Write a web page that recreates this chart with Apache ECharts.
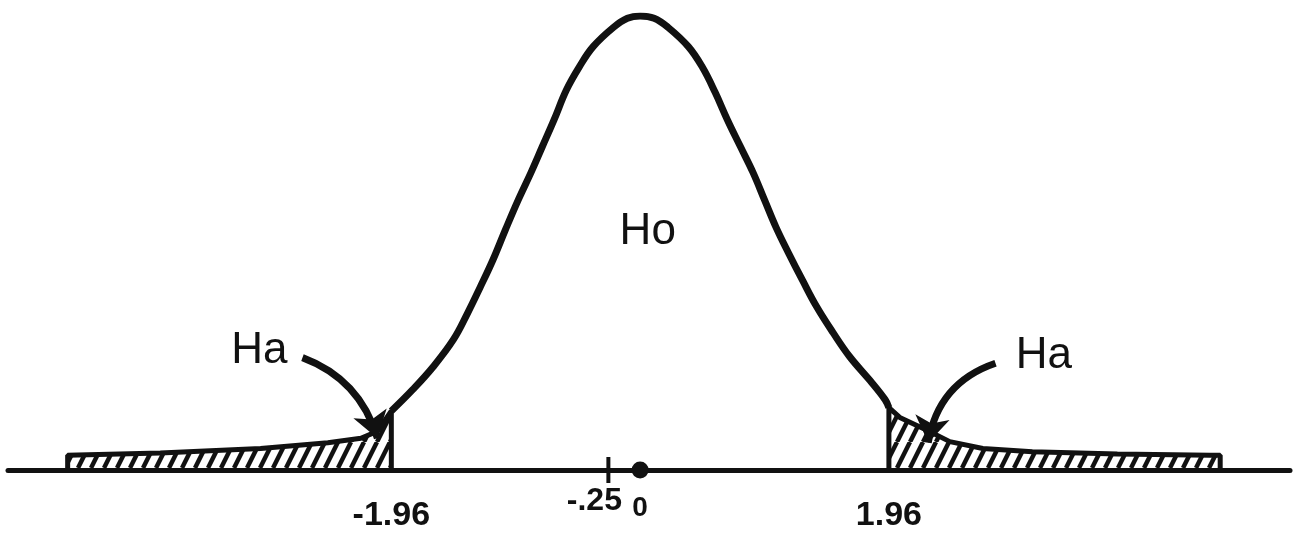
<!DOCTYPE html>
<html>
	<head>
		<meta charset="utf-8">
		<title>Ho / Ha</title>
		<script src="https://cdn.jsdelivr.net/npm/echarts@6.0.0/dist/echarts.min.js"></script>
		<style>
			html, body { margin: 0; padding: 0; background: #fff; }
			#x { width: 1297px; height: 535px; }
		</style>
	</head>
	<body>
		<div id="x"></div>
	</body>

	<script type="text/javascript">
		// curve (z units, density-like heights)
		var curveX = [-1.96, -1.79, -1.63, -1.47, -1.36, -1.26, -1.16, -1.06, -0.96, -0.86, -0.77, -0.68, -0.58, -0.48, -0.37, -0.21, -0.10, 0,
			0.11, 0.22, 0.38, 0.49, 0.59, 0.69, 0.79, 0.89, 0.98, 1.07, 1.17, 1.28, 1.39, 1.52, 1.65, 1.81, 1.93, 1.96];
		var curveY = [0.052, 0.071, 0.091, 0.115, 0.138, 0.161, 0.185, 0.212, 0.238, 0.262, 0.285, 0.308, 0.335, 0.355, 0.373, 0.390, 0.398, 0.400,
			0.398, 0.390, 0.373, 0.355, 0.333, 0.308, 0.285, 0.262, 0.238, 0.214, 0.191, 0.167, 0.144, 0.121, 0.100, 0.079, 0.062, 0.055];

		// shaded rejection tails
		var leftTailX = [-4.51, -4.51, -3.78, -2.99, -2.46, -2.20, -2.07, -1.96, -1.96];
		var leftTailY = [0, 0.013, 0.015, 0.019, 0.024, 0.028, 0.034, 0.052, 0];
		var rightTailX = [1.96, 1.96, 2.05, 2.26, 2.44, 2.70, 3.09, 3.76, 4.49, 4.57, 4.57];
		var rightTailY = [0, 0.055, 0.046, 0.035, 0.025, 0.019, 0.016, 0.014, 0.013, 0.013, 0];

		// axis marks
		var criticalValues = [-1.96, 1.96];
		var criticalLabels = ['-1.96', '1.96'];
		var tickValue = -0.25, tickLabel = '-.25';
		var meanValue = 0, meanLabel = '0';

		// hypothesis labels + arrows
		var noteNames = ['Ho', 'Ha', 'Ha'];
		var noteX = [0.06, -3.0, 3.18];
		var noteY = [0.21, 0.105, 0.101];
		var arrowFrom = [[-2.66, 0.099], [2.80, 0.094]];
		var arrowTo = [[-2.07, 0.028], [2.27, 0.024]];

		function pairs(xs, ys) {
			return xs.map(function (v, i) { return [v, ys[i]]; });
		}

		// diagonal hatch
		var hatch = document.createElement('canvas');
		hatch.width = 13; hatch.height = 26;
		var g = hatch.getContext('2d');
		g.fillStyle = '#fff';
		g.fillRect(0, 0, 13, 26);
		g.strokeStyle = '#111';
		g.lineWidth = 4.5;
		[-13, 0, 13].forEach(function (d) {
			g.beginPath();
			g.moveTo(d, 26);
			g.lineTo(d + 13, 0);
			g.stroke();
		});

		var font = '"Liberation Sans", Arial, sans-serif';

		var option = {
			animation: false,
			backgroundColor: '#fff',
			grid: { left: 8, right: 7, top: 16, bottom: 65 },
			xAxis: {
				type: 'value',
				min: -4.98,
				max: 5.12,
				z: 5,
				splitLine: { show: false },
				axisLine: { onZero: false, lineStyle: { color: '#111', width: 5 } },
				axisTick: { show: false },
				axisLabel: {
					customValues: criticalValues,
					formatter: function (v) { return criticalLabels[criticalValues.indexOf(v)]; },
					margin: 29,
					color: '#111',
					fontFamily: font,
					fontWeight: 'bold',
					fontSize: 34
				}
			},
			yAxis: {
				type: 'value',
				min: 0,
				max: 0.4,
				show: false
			},
			series: [
				{
					type: 'line',
					data: pairs(leftTailX, leftTailY),
					showSymbol: false,
					z: 2,
					lineStyle: { color: '#111', width: 5 },
					areaStyle: { color: { image: hatch, repeat: 'repeat' }, opacity: 1 }
				},
				{
					type: 'line',
					data: pairs(rightTailX, rightTailY),
					showSymbol: false,
					z: 2,
					lineStyle: { color: '#111', width: 5 },
					areaStyle: { color: { image: hatch, repeat: 'repeat' }, opacity: 1 }
				},
				{
					type: 'line',
					data: pairs(curveX, curveY),
					smooth: 0.4,
					showSymbol: false,
					z: 3,
					lineStyle: { color: '#111', width: 7 }
				},
				{
					type: 'scatter',
					z: 10,
					data: [[tickValue, 0]],
					symbol: 'rect',
					symbolSize: [4, 26],
					itemStyle: { color: '#111', opacity: 1 },
					label: {
						show: true, position: 'bottom', distance: 2, offset: [-14, 0],
						formatter: tickLabel,
						color: '#111', fontFamily: font, fontWeight: 'bold', fontSize: 32
					}
				},
				{
					type: 'scatter',
					z: 10,
					data: [[meanValue, 0]],
					symbolSize: 17,
					itemStyle: { color: '#111', opacity: 1 },
					label: {
						show: true, position: 'bottom', distance: 16,
						formatter: meanLabel,
						color: '#111', fontFamily: font, fontWeight: 'bold', fontSize: 28
					}
				},
				{
					type: 'scatter',
					z: 10,
					data: noteNames.map(function (n, i) { return { name: n, value: [noteX[i], noteY[i]] }; }),
					symbolSize: 1,
					itemStyle: { color: 'rgba(0,0,0,0)', opacity: 1 },
					label: {
						show: true, position: 'inside',
						formatter: '{b}',
						color: '#111', fontFamily: font, fontSize: 44
					}
				},
				{
					type: 'lines',
					coordinateSystem: 'cartesian2d',
					z: 9,
					symbol: ['none', 'arrow'],
					symbolSize: 26,
					lineStyle: { color: '#111', width: 7, opacity: 1 },
					data: [
						{ coords: [arrowFrom[0], arrowTo[0]], lineStyle: { curveness: 0.25 } },
						{ coords: [arrowFrom[1], arrowTo[1]], lineStyle: { curveness: -0.3 } }
					]
				}
			]
		};

		var mychart = echarts.init(document.getElementById('x'));
		mychart.setOption(option);
	</script>
</html>
